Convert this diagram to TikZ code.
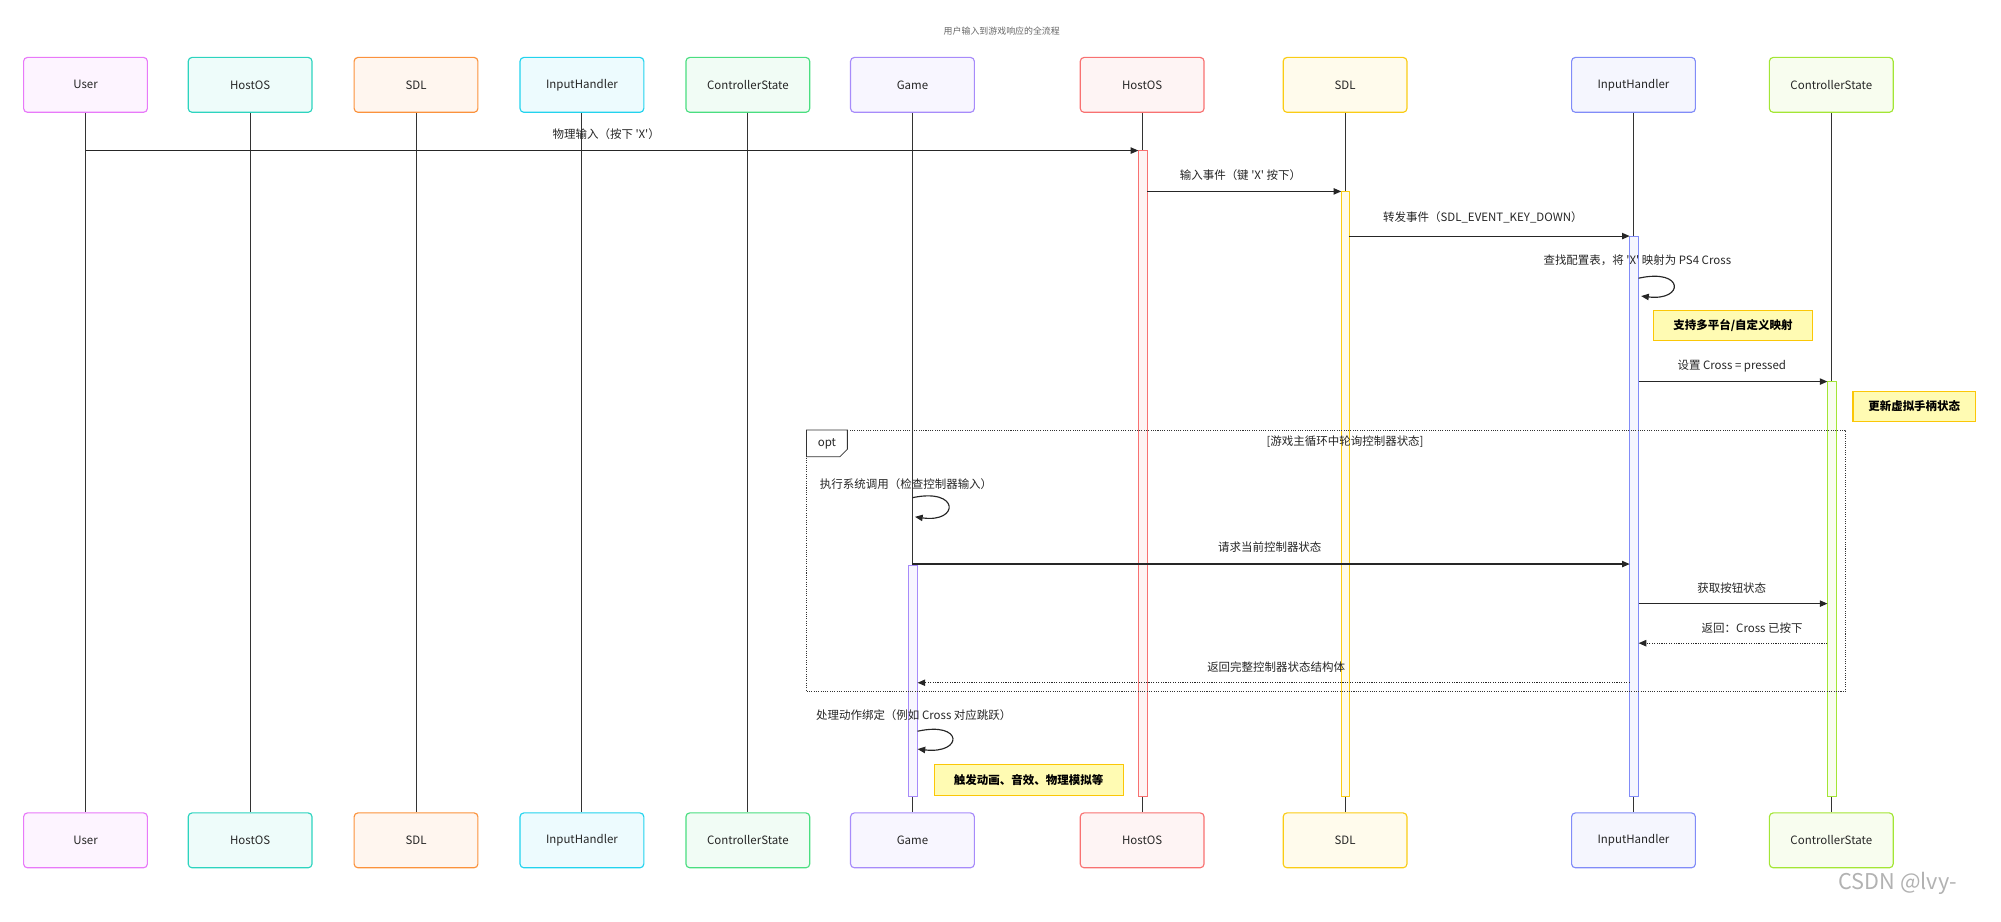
\documentclass[tikz,border=0pt]{standalone}
\usepackage{fontspec}
\newfontfamily\cjk{Noto Sans CJK SC}
\usetikzlibrary{arrows.meta}
\begin{document}
\begin{tikzpicture}[x=1pt,y=-1pt,font=\cjk\fontsize{9}{10}\selectfont,
  actor/.style={draw=#1,fill=#1!8,line width=0.9pt,rounded corners=3pt,minimum width=97pt,minimum height=43pt,text=black!85},
  life/.style={draw=black!80,line width=0.8pt},
  act/.style={draw=#1,fill=#1!8,line width=0.5pt},
  msg/.style={draw=black!85,line width=0.9pt,-{Triangle[length=6pt,width=5pt]}},
  ret/.style={msg,densely dotted},
  lbl/.style={text=black!85,inner sep=1pt},
  note/.style={draw=yellow!60!orange,fill=yellow!30,line width=0.8pt,font=\cjk\fontsize{9}{10}\selectfont\bfseries,inner sep=4pt,minimum height=24pt}]
\useasboundingbox (0,0) rectangle (1568,722);
\definecolor{cU}{HTML}{E879F9}\definecolor{cH}{HTML}{2DD4BF}\definecolor{cS}{HTML}{FB923C}
\definecolor{cI}{HTML}{22D3EE}\definecolor{cC}{HTML}{4ADE80}\definecolor{cG}{HTML}{A78BFA}
\definecolor{cH2}{HTML}{F87171}\definecolor{cS2}{HTML}{FACC15}\definecolor{cI2}{HTML}{818CF8}\definecolor{cC2}{HTML}{A3E635}
\node[text=black!60,font=\cjk\fontsize{7}{8}\selectfont] (title) at (785,24) {用户输入到游戏响应的全流程};
\foreach \n/\x/\c/\t in {u/67/cU/User,h/196/cH/HostOS,s/326/cS/SDL,i/456/cI/InputHandler,c/586/cC/ControllerState,g/715/cG/Game,hh/895/cH2/HostOS,ss/1054/cS2/SDL,ii/1280/cI2/InputHandler,cc/1435/cC2/ControllerState}{
  \node[actor=\c] (\n) at (\x,66.5) {\t};
  \node[actor=\c] (\n b) at (\x,658.5) {\t};
  \draw[life] (\n) -- (\n b);
}
% activations
\draw[act=cH2] (892,118) rectangle (899,624);
\draw[act=cS2] (1051,150) rectangle (1057,624);
\draw[act=cI2] (1277,185) rectangle (1284,624);
\draw[act=cC2] (1432,299) rectangle (1439,624);
\draw[act=cG] (712,443) rectangle (719,624);
% opt frame
\draw[black!80,densely dotted,line width=0.8pt] (632,337) rectangle (1446,542);
\draw[black!80,line width=0.6pt,fill=white] (632,337) -- (664,337) -- (664,352) -- (658,358) -- (632,358) -- cycle;
\node[lbl] (opt) at (648,348) {opt};
\node[lbl] (cond) at (1054,346) {[游戏主循环中轮询控制器状态]};
% messages
\draw[msg] (u |- 0,118) -- (892,118);
\node[lbl] at (475,105) {物理输入（按下 'X'）};
\draw[msg] (899,150) -- (1051,150);
\node[lbl] at (972,137) {输入事件（键 'X' 按下）};
\draw[msg] (1057,185) -- (1277,185);
\node[lbl] at (1162,170) {转发事件（SDL\_EVENT\_KEY\_DOWN）};
\draw[msg] (1284,218) .. controls (1320,210) and (1320,236) .. (1286,232);
\node[lbl] at (1283,204) {查找配置表，将 'X' 映射为 PS4 Cross};
\node[note,minimum width=124pt] (n1) at (1358,255) {支持多平台/自定义映射};
\draw[msg] (1284,299) -- (1432,299);
\node[lbl] at (1357,287) {设置 Cross = pressed};
\node[note,minimum width=96pt] (n2) at (1500,318.5) {更新虚拟手柄状态};
\draw[msg] (715,390) .. controls (752,382) and (752,410) .. (717,405);
\node[lbl] at (710,379) {执行系统调用（检查控制器输入）};
\draw[msg] (715,442) -- (1277,442);
\node[lbl] at (995,429) {请求当前控制器状态};
\draw[msg] (1284,473) -- (1432,473);
\node[lbl] at (1357,461) {获取按钮状态};
\draw[ret] (1432,504) -- (1284,504);
\node[lbl] at (1373,492) {返回：Cross 已按下};
\draw[ret] (1277,535) -- (719,535);
\node[lbl] at (1000,523) {返回完整控制器状态结构体};
\draw[msg] (719,573) .. controls (755,565) and (755,591) .. (719,587);
\node[lbl] at (716,560) {处理动作绑定（例如 Cross 对应跳跃）};
\node[note,minimum width=148pt] (n3) at (806,611) {触发动画、音效、物理模拟等};
\node[text=black!30,font=\cjk\fontsize{17}{18}\selectfont] (wm) at (1487,692) {CSDN @lvy-};
\end{tikzpicture}
\end{document}
